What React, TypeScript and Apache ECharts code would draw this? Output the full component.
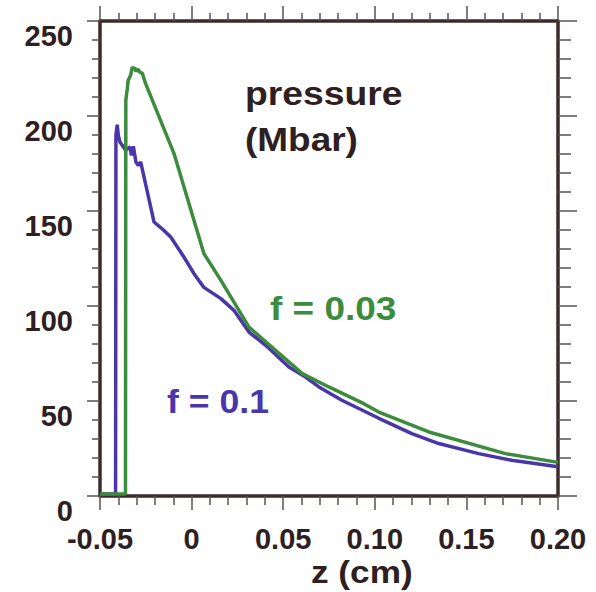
import React, { useEffect, useRef } from 'react';
import * as echarts from 'echarts';

// f = 0.1 (blue) : z in cm, pressure in Mbar
const zF01 = [-0.05, -0.0415, -0.0413, -0.0406, -0.0400, -0.0391, -0.0360, -0.0336, -0.0329, -0.0318, -0.0304, -0.0291, -0.0278, -0.0205, -0.0151, -0.0114, -0.0042, 0.0013, 0.0067, 0.0160, 0.0231, 0.0313, 0.0404, 0.0531, 0.0622, 0.0695, 0.0820, 0.1022, 0.1202, 0.1349, 0.1567, 0.1747, 0.2000];
const pF01 = [1, 1, 190, 195.4, 189.8, 186.3, 182, 183.7, 179.3, 184, 175.8, 174, 175.8, 144.2, 139.8, 136.3, 125.8, 117, 109.8, 103.9, 97.7, 86.3, 79.3, 67.9, 62.6, 57.4, 50.4, 40.9, 32.8, 27.6, 22.3, 18.8, 15.4];

// f = 0.03 (green)
const zF003 = [-0.05, -0.0361, -0.0359, -0.0351, -0.0346, -0.0333, -0.0324, -0.0317, -0.0312, -0.0304, -0.0293, -0.0282, -0.0269, -0.0251, -0.0096, 0.0067, 0.0160, 0.0313, 0.0604, 0.0749, 0.0940, 0.1022, 0.1295, 0.1713, 0.2000];
const pF003 = [1, 1, 208.3, 214.4, 218.8, 221.4, 225.8, 224.6, 225.6, 223.5, 224.6, 223, 222.5, 217, 180.2, 127.6, 113.5, 88.9, 64.4, 57.4, 48.6, 44.2, 33.7, 22.3, 17.7];

const xTickLabels = ['-0.05', '0', '0.05', '0.10', '0.15', '0.20'];
const yTickLabels = ['0', '50', '100', '150', '200', '250'];

const X_MIN = -0.05;
const X_MAX = 0.2;
const X_STEP = 0.05;
const Y_MIN = 0;
const Y_MAX = 250;
const Y_STEP = 50;

const FRAME = '#3b2a2a';
const TICK = '#5a5050';
const LABEL = '#2e2020';
const BLUE = '#4a36a8';
const GREEN = '#3d8b3d';
const FONT = '"Liberation Sans", Arial, sans-serif';

export default function App() {
  const ref = useRef<HTMLDivElement>(null);
  useEffect(() => {
    if (!ref.current) return;
    const chart = echarts.init(ref.current, undefined, { renderer: 'svg' });
    const zip = (xs: number[], ys: number[]) => xs.map((x, i) => [x, ys[i]]);
    const xLabel = (v: number) => xTickLabels[Math.round((v - X_MIN) / X_STEP)] ?? '';
    const yLabel = (v: number) => yTickLabels[Math.round((v - Y_MIN) / Y_STEP)] ?? '';
    const lineCommon = { show: true, onZero: false, lineStyle: { color: FRAME, width: 3.5 } };
    const labelCommon = { color: LABEL, fontSize: 29, fontWeight: 'bold' as const, fontFamily: FONT };
    const option: any = {
      animation: false,
      backgroundColor: '#ffffff',
      grid: { left: 100, right: 38, top: 21, bottom: 96, containLabel: false },
      xAxis: [
        {
          type: 'value', min: X_MIN, max: X_MAX, interval: X_STEP, position: 'bottom',
          axisLine: lineCommon,
          axisTick: { show: true, inside: false, length: 14, lineStyle: { color: TICK, width: 1.5 } },
          minorTick: { show: true, splitNumber: 5, length: 9, lineStyle: { color: TICK, width: 1.5 } },
          splitLine: { show: false },
          axisLabel: { ...labelCommon, margin: 28, formatter: xLabel, showMinLabel: true, showMaxLabel: true },
        },
        {
          type: 'value', min: X_MIN, max: X_MAX, interval: X_STEP, position: 'top',
          axisLine: lineCommon,
          axisTick: { show: true, inside: false, length: 15, lineStyle: { color: TICK, width: 1.5 } },
          minorTick: { show: true, splitNumber: 5, length: 8, lineStyle: { color: TICK, width: 1.5 } },
          splitLine: { show: false },
          axisLabel: { show: false },
        },
      ],
      yAxis: [
        {
          type: 'value', min: Y_MIN, max: Y_MAX, interval: Y_STEP, position: 'left',
          axisLine: lineCommon,
          axisTick: { show: true, inside: false, length: 13, lineStyle: { color: TICK, width: 1.5 } },
          minorTick: { show: true, splitNumber: 5, length: 8, lineStyle: { color: TICK, width: 1.5 } },
          splitLine: { show: false },
          axisLabel: { ...labelCommon, margin: 27, verticalAlign: 'top', formatter: yLabel, showMinLabel: true, showMaxLabel: true },
        },
        {
          type: 'value', min: Y_MIN, max: Y_MAX, interval: Y_STEP, position: 'right',
          axisLine: lineCommon,
          axisTick: { show: true, inside: false, length: 19, lineStyle: { color: TICK, width: 1.5 } },
          minorTick: { show: true, splitNumber: 5, length: 13, lineStyle: { color: TICK, width: 1.5 } },
          splitLine: { show: false },
          axisLabel: { show: false },
        },
      ],
      series: [
        {
          name: 'f = 0.1', type: 'line', xAxisIndex: 0, yAxisIndex: 0,
          data: zip(zF01, pF01), showSymbol: false, symbol: 'none',
          lineStyle: { color: BLUE, width: 3.5 }, itemStyle: { color: BLUE }, z: 3,
        },
        {
          name: 'f = 0.03', type: 'line', xAxisIndex: 0, yAxisIndex: 0,
          data: zip(zF003, pF003), showSymbol: false, symbol: 'none',
          lineStyle: { color: GREEN, width: 3.5 }, itemStyle: { color: GREEN }, z: 3,
        },
      ],
      graphic: [
        { type: 'text', x: 245, y: 93.5, scaleX: 1.13, style: { text: 'pressure', font: `bold 33px ${FONT}`, fill: LABEL, align: 'left', verticalAlign: 'middle' } },
        { type: 'text', x: 245, y: 139, scaleX: 1.12, style: { text: '(Mbar)', font: `bold 33px ${FONT}`, fill: LABEL, align: 'left', verticalAlign: 'middle' } },
        { type: 'text', x: 270, y: 308.5, scaleX: 1.12, style: { text: 'f = 0.03', font: `bold 33px ${FONT}`, fill: GREEN, align: 'left', verticalAlign: 'middle' } },
        { type: 'text', x: 167, y: 401.5, scaleX: 1.08, style: { text: 'f = 0.1', font: `bold 33px ${FONT}`, fill: BLUE, align: 'left', verticalAlign: 'middle' } },
        { type: 'text', x: 311, y: 572, scaleX: 1.1, style: { text: 'z (cm)', font: `bold 32px ${FONT}`, fill: LABEL, align: 'left', verticalAlign: 'middle' } },
      ],
    };
    chart.setOption(option);
    return () => chart.dispose();
  }, []);
  return (
    <div
      ref={ref}
      style={{ position: 'fixed', left: 0, top: 0, width: 596, height: 592, background: '#fff' }}
    />
  );
}
